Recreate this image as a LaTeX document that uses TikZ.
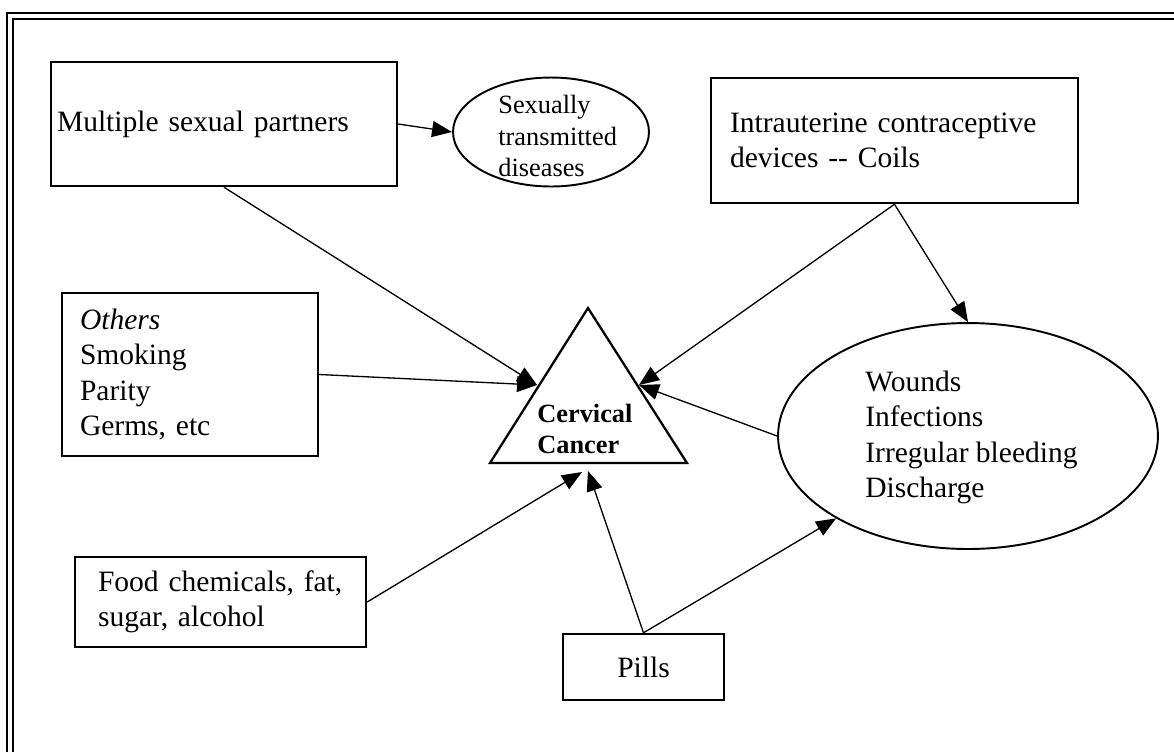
\documentclass[tikz,border=0pt]{standalone}
\usepackage{fontspec}
\setmainfont{Liberation Serif}
\usetikzlibrary{arrows.meta}
\usetikzlibrary{calc,shapes}

\tikzset{
  boite/.style={draw, line width=1.4pt, rectangle, align=left, inner ysep=0pt,
    font=\fontsize{16.8}{20}\selectfont},
  bulle/.style={draw, line width=1.1pt, ellipse, inner sep=0pt},
  txt/.style={align=left, inner sep=0pt, anchor=west, font=\fontsize{16.8}{20}\selectfont},
  fleche/.style={-{Triangle[length=0.4cm,width=0.32cm]}, line width=0.75pt},
}

\begin{document}
\begin{tikzpicture}[x=0.02cm,y=-0.02cm]
\useasboundingbox (0,0) rectangle (1174,752);
% cadre
\draw [line width=0.8pt] (7,752) -- (7,13) -- (1174,13);
\draw [line width=0.8pt] (13,752) -- (13,19) -- (1174,19);

% boites
\node [boite, inner xsep=0.12cm, text width=6.68cm, minimum height=2.48cm] (mult) at (224,124) {Multiple sexual partners};
\node [boite, inner xsep=0.38cm, text width=6.58cm, minimum height=2.5cm] (iud) at (894.5,140.5) {Intrauterine contraceptive\\devices {-}{-} Coils};
\node [boite, inner xsep=0.36cm, text width=4.4cm, minimum height=3.26cm] (oth) at (190,374.5) {\textit{Others}\\Smoking\\Parity\\Germs, etc};
\node [boite, inner xsep=0.46cm, text width=4.9cm, minimum height=1.8cm] (food) at (220.5,602) {Food chemicals, fat,\\sugar, alcohol};
\node [boite, align=center, inner xsep=0cm, text width=3.22cm, minimum height=1.32cm] (pills) at (643.5,667) {Pills};

% ellipses
\node [bulle, minimum width=3.92cm, minimum height=2.18cm] (std) at (551,132) {};
\node [txt, font=\fontsize{15}{17.9}\selectfont] (std-txt) at (498,136) {Sexually\\transmitted\\diseases};
\node [bulle, minimum width=7.6cm, minimum height=4.52cm] (wnd) at (968,436) {};
\node [txt] (wnd-txt) at (865,437.5) {Wounds\\Infections\\Irregular bleeding\\Discharge};

% triangle
\coordinate (apex) at (588,308);
\coordinate (bl) at (490,463);
\coordinate (br) at (687,463);
\draw [line width=1.3pt, line join=miter] (apex) -- (bl) -- (br) -- cycle;
\node [txt, font=\fontsize{15}{18}\selectfont\bfseries] (cc) at (537,429) {Cervical\\Cancer};
\coordinate (ccl) at (537,385);
\coordinate (ccr) at (639,385);
\coordinate (ccb1) at (582,472);
\coordinate (ccb2) at (588,471);

% Flèches
\draw [fleche] (mult.east) -- (std.west);
\draw [fleche] (mult.south) -- (ccl);
\draw [fleche] (oth.east) -- (ccl);
\draw [fleche] (food.east) -- (ccb1);
\draw [fleche] (pills.north) -- (ccb2);
\draw [fleche] (pills.north) -- (wnd.212);
\draw [fleche] (iud.south) -- (ccr);
\draw [fleche] (iud.south) -- (wnd.north);
\draw [fleche] (wnd.west) -- (ccr);
\end{tikzpicture}
\end{document}
